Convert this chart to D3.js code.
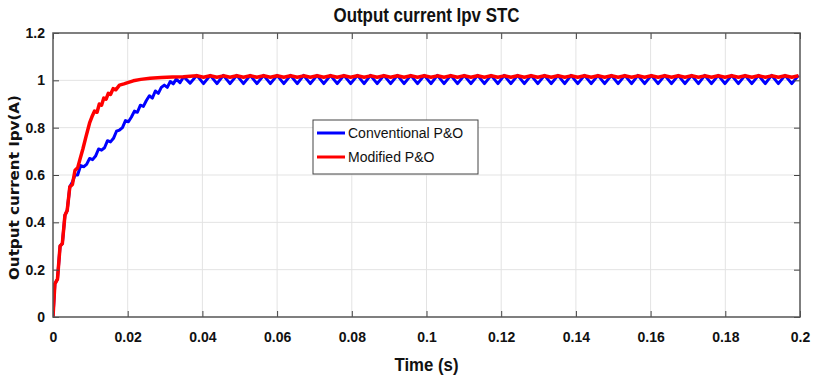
<!DOCTYPE html>
<html><head><meta charset="utf-8">
<script src="https://cdn.jsdelivr.net/npm/d3@7"></script>
<style>
body{margin:0;background:#fff;}
svg{display:block;}
</style></head>
<body>
<svg id="c" width="815" height="379"></svg>
<script>
// ---- data ----
const xTicks = [0,0.02,0.04,0.06,0.08,0.1,0.12,0.14,0.16,0.18,0.2];
const xTickLabels = ["0","0.02","0.04","0.06","0.08","0.1","0.12","0.14","0.16","0.18","0.2"];
const yTicks = [0,0.2,0.4,0.6,0.8,1,1.2];
const yTickLabels = ["0","0.2","0.4","0.6","0.8","1","1.2"];
const seriesNames = ["Conventional P&O","Modified P&O"];
const seriesColors = ["#0000ff","#ff0000"];

// Conventional P&O: transient
const convTransT = [0,0.0005,0.0012,0.0019,0.0025,0.0032,0.0038,0.0045,0.0052,0.0059,0.0066,0.0074,0.0082,0.0090,0.0098,0.0106,0.0114,0.0122,0.0130,0.0138,0.0146,0.0154,0.0162,0.0170,0.0178,0.0186,0.0194,0.0202,0.0210,0.0218,0.0226,0.0234,0.0242,0.0250,0.0258,0.0266,0.0274,0.0282,0.0290,0.0298,0.0306,0.0314,0.0322,0.0330,0.0340,0.0350,0.0367];
const convTransV = [0,0.14,0.16,0.30,0.31,0.43,0.45,0.55,0.57,0.60,0.60,0.64,0.635,0.645,0.67,0.665,0.68,0.71,0.705,0.715,0.745,0.74,0.755,0.785,0.79,0.80,0.83,0.825,0.845,0.87,0.865,0.895,0.89,0.915,0.935,0.925,0.955,0.945,0.97,0.98,0.97,0.995,0.985,1.005,0.99,1.015,0.988];
// Conventional P&O: steady-state oscillation (peak, trough)
const convPeakT = [0.0385,0.0421,0.0456,0.0492,0.0528,0.0564,0.0600,0.0636,0.0671,0.0707,0.0743,0.0779,0.0815,0.0850,0.0886,0.0922,0.0958,0.0994,0.1029,0.1065,0.1101,0.1137,0.1173,0.1208,0.1244,0.1280,0.1316,0.1352,0.1387,0.1423,0.1459,0.1495,0.1531,0.1566,0.1602,0.1638,0.1674,0.1710,0.1745,0.1781,0.1817,0.1853,0.1889,0.1924,0.1960,0.1996];
const convTroughT = [0.0403,0.0439,0.0474,0.0510,0.0546,0.0582,0.0618,0.0654,0.0689,0.0725,0.0761,0.0797,0.0833,0.0868,0.0904,0.0940,0.0976,0.1012,0.1047,0.1083,0.1119,0.1155,0.1191,0.1226,0.1262,0.1298,0.1334,0.1370,0.1405,0.1441,0.1477,0.1513,0.1549,0.1584,0.1620,0.1656,0.1692,0.1728,0.1763,0.1799,0.1835,0.1871,0.1907,0.1942,0.1978];
const convPeakV = 1.021;
const convTroughV = 0.986;

// Modified P&O: transient
const modTransT = [0,0.0005,0.0012,0.0019,0.0025,0.0032,0.0038,0.0045,0.0052,0.0059,0.0066,0.0072,0.0080,0.0088,0.0098,0.0104,0.0111,0.0118,0.0124,0.0130,0.0136,0.0142,0.0148,0.0154,0.0161,0.0168,0.0178,0.0190,0.0200,0.0215,0.0235,0.0260,0.0290,0.0320,0.0350];
const modTransV = [0,0.14,0.16,0.30,0.31,0.43,0.45,0.55,0.56,0.62,0.63,0.665,0.71,0.76,0.82,0.845,0.87,0.865,0.90,0.895,0.925,0.92,0.945,0.94,0.965,0.96,0.98,0.985,0.99,0.998,1.004,1.009,1.012,1.014,1.015];
// Modified P&O: steady-state small ripple (peak, trough)
const modPeakV = 1.019;
const modTroughV = 1.013;

// ---- build point lists ----
function steady(peaksT, troughsT, pv, tv){
  const pts=[];
  peaksT.forEach((t,i)=>{pts.push([t,pv]); if(i<troughsT.length) pts.push([troughsT[i],tv]);});
  return pts;
}
const convData = convTransT.map((t,i)=>[t,convTransV[i]]).concat(steady(convPeakT,convTroughT,convPeakV,convTroughV));
const modData = modTransT.map((t,i)=>[t,modTransV[i]]).concat(steady(convPeakT.filter(t=>t>0.036),convTroughT.filter(t=>t>0.036),modPeakV,modTroughV));

// ---- chart ----
const svg = d3.select("#c");
const m = {l:53,r:800,t:33,b:317};
const x = d3.scaleLinear().domain([0,0.2]).range([m.l,m.r]);
const y = d3.scaleLinear().domain([0,1.2]).range([m.b,m.t]);

// grid
svg.append("g").selectAll("line").data(xTicks.slice(1,-1)).join("line")
  .attr("x1",d=>x(d)).attr("x2",d=>x(d)).attr("y1",m.t).attr("y2",m.b)
  .attr("stroke","#e3e3e3").attr("stroke-width",1);
svg.append("g").selectAll("line").data(yTicks.slice(1,-1)).join("line")
  .attr("y1",d=>y(d)).attr("y2",d=>y(d)).attr("x1",m.l).attr("x2",m.r)
  .attr("stroke","#e3e3e3").attr("stroke-width",1);

// clip
svg.append("clipPath").attr("id","clip").append("rect")
  .attr("x",m.l).attr("y",m.t).attr("width",m.r-m.l).attr("height",m.b-m.t);

const line = d3.line().x(d=>x(d[0])).y(d=>y(d[1]));
const plot = svg.append("g").attr("clip-path","url(#clip)");
plot.append("path").datum(convData).attr("d",line).attr("fill","none")
  .attr("stroke",seriesColors[0]).attr("stroke-width",3).attr("stroke-linejoin","round");
plot.append("path").datum(modData).attr("d",line).attr("fill","none")
  .attr("stroke",seriesColors[1]).attr("stroke-width",3.5).attr("stroke-linejoin","round");

// axes
const axB = d3.axisBottom(x).tickValues(xTicks).tickFormat((d,i)=>xTickLabels[i]).tickSizeInner(-6).tickSizeOuter(0).tickPadding(15);
const axT = d3.axisTop(x).tickValues(xTicks).tickFormat("").tickSizeInner(-6).tickSizeOuter(0);
const axL = d3.axisLeft(y).tickValues(yTicks).tickFormat((d,i)=>yTickLabels[i]).tickSizeInner(-6).tickSizeOuter(0).tickPadding(8);
const axR = d3.axisRight(y).tickValues(yTicks).tickFormat("").tickSizeInner(-6).tickSizeOuter(0);

function styleAxis(g){
  g.select(".domain").remove();
  g.selectAll(".tick line").attr("stroke","#444").attr("stroke-width",1);
  g.selectAll(".tick text").attr("fill","#111")
    .style("font-family","'Liberation Sans',Arial,sans-serif").style("font-weight","bold").style("font-size","14px");
}
svg.append("g").attr("transform",`translate(0,${m.b})`).call(axB).call(styleAxis);
svg.append("g").attr("transform",`translate(0,${m.t})`).call(axT).call(styleAxis);
svg.append("g").attr("transform",`translate(${m.l},0)`).call(axL).call(styleAxis);
svg.append("g").attr("transform",`translate(${m.r},0)`).call(axR).call(styleAxis);

// frame
svg.append("rect").attr("x",m.l).attr("y",m.t).attr("width",m.r-m.l).attr("height",m.b-m.t)
  .attr("fill","none").attr("stroke","#555").attr("stroke-width",1.5);

// title & labels (condensed bold)
const cx = (m.l+m.r)/2;
svg.append("text").attr("x",cx-93).attr("y",22)
  .attr("textLength",186).attr("lengthAdjust","spacingAndGlyphs")
  .style("font-family","'Liberation Sans',Arial,sans-serif").style("font-weight","bold")
  .style("font-size","20px").attr("fill","#111").text("Output current Ipv STC");
svg.append("text").attr("x",cx-32).attr("y",371)
  .attr("textLength",64).attr("lengthAdjust","spacingAndGlyphs")
  .style("font-family","'Liberation Sans',Arial,sans-serif").style("font-weight","bold")
  .style("font-size","19px").attr("fill","#111").text("Time (s)");
svg.append("text").attr("transform","translate(19,280) rotate(-90)")
  .attr("textLength",185).attr("lengthAdjust","spacingAndGlyphs")
  .style("font-family","'DejaVu Sans',sans-serif").style("font-weight","bold").style("font-size","14px")
  .attr("fill","#111").text("Output current Ipv(A)");

// legend
const lg = svg.append("g");
lg.append("rect").attr("x",313).attr("y",120).attr("width",165).attr("height",54)
  .attr("fill","#fff").attr("stroke","#444").attr("stroke-width",1);
seriesNames.forEach((n,i)=>{
  const yy = 133 + i*24;
  lg.append("line").attr("x1",317).attr("x2",345).attr("y1",yy).attr("y2",yy)
    .attr("stroke",seriesColors[i]).attr("stroke-width",3);
  lg.append("text").attr("x",348).attr("y",yy+5).style("font-family","'Liberation Sans',Arial,sans-serif")
    .style("font-size","14px").attr("fill","#111").text(n);
});
</script>
</body></html>
